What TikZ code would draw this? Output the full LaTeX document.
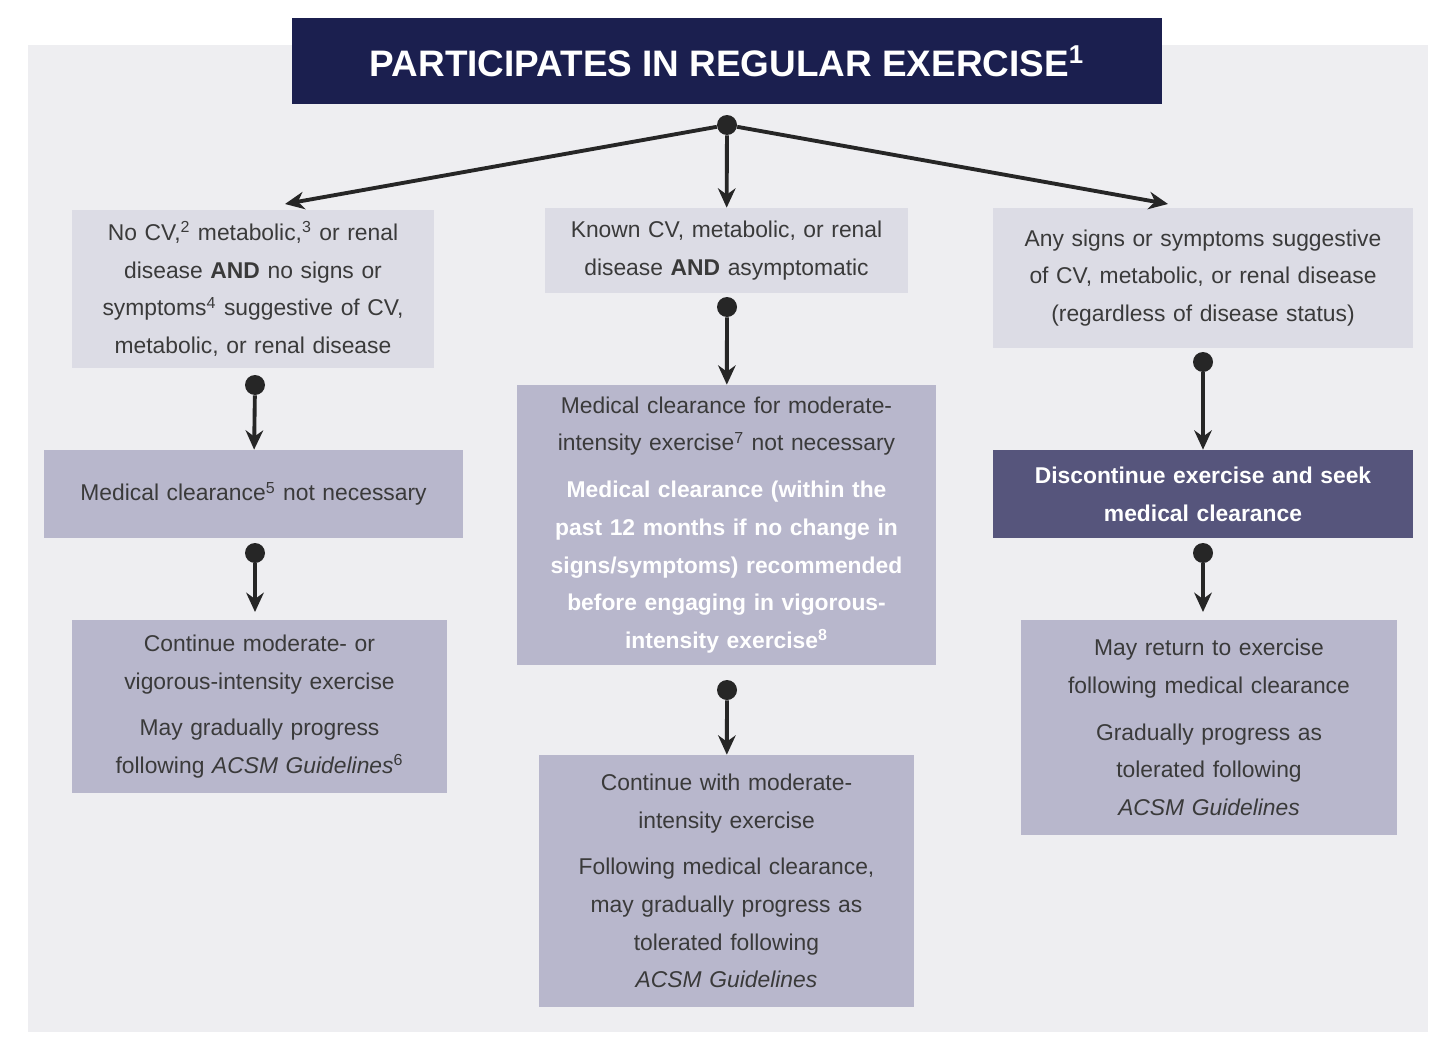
\documentclass[tikz,border=0pt]{standalone}
\usepackage{fontspec}
\setmainfont{Liberation Sans}
\usetikzlibrary{arrows.meta}
\definecolor{bgcol}{HTML}{EEEEF1}
\definecolor{lightbox}{HTML}{DCDCE5}
\definecolor{midbox}{HTML}{B8B7CC}
\definecolor{darkbox}{HTML}{56557C}
\definecolor{titlecol}{HTML}{1B1F4F}
\definecolor{txt}{HTML}{3A3A3A}
\tikzset{
  box/.style={inner sep=0pt, align=center, text=txt,
    font=\fontsize{13}{21.5}\selectfont},
  lbox/.style={box, fill=lightbox},
  mbox/.style={box, fill=midbox},
  dbox/.style={box, fill=darkbox, text=white, font=\fontsize{13}{21.5}\selectfont\bfseries},
  dot/.style={circle, fill=black!85, inner sep=0pt, minimum size=0.4cm},
  flow/.style={line width=2.2pt, black!85, -{Stealth[length=11pt,width=10pt]}}
}
\begin{document}
\begin{tikzpicture}[x=0.02cm,y=-0.02cm]
    \useasboundingbox[fill=white] (0,0) rectangle (1440,1048);
    \fill[bgcol] (28,45) rectangle (1428,1032);
    % title
    \node[fill=titlecol, text=white, minimum width=17.4cm, minimum height=1.72cm,
      font=\fontsize{21}{24}\selectfont\bfseries] (title) at (727,61)
      {PARTICIPATES IN REGULAR EXERCISE\textsuperscript{1}};
    \node[dot] (split) at (727,125) {};
    % left column
    \node[lbox, minimum width=7.24cm, minimum height=3.16cm, text width=6.9cm] (noCV) at (253,289)
      {No CV,\textsuperscript{2} metabolic,\textsuperscript{3} or renal disease \textbf{AND} no signs or symptoms\textsuperscript{4} suggestive of CV, metabolic, or renal disease};
    \node[mbox, minimum width=8.38cm, minimum height=1.76cm, text width=8cm] (noClear) at (253.5,494)
      {Medical clearance\textsuperscript{5} not necessary};
    \node[mbox, minimum width=7.5cm, minimum height=3.46cm, text width=7.1cm] (contL) at (259.5,706.5)
      {Continue moderate- or\\ vigorous-intensity exercise\\[5pt] May gradually progress\\ following \textit{ACSM Guidelines}\textsuperscript{6}};
    % middle column
    \node[lbox, minimum width=7.26cm, minimum height=1.7cm, text width=6.9cm] (known) at (726.5,250.5)
      {Known CV, metabolic, or renal\\ disease \textbf{AND} asymptomatic};
    \node[mbox, minimum width=8.38cm, minimum height=5.6cm, text width=8cm] (clearM) at (726.5,525)
      {Medical clearance for moderate-\\ intensity exercise\textsuperscript{7} not necessary\\[5pt]
       {\color{white}\bfseries Medical clearance (within the\\ past 12 months if no change in\\ signs/symptoms) recommended\\ before engaging in vigorous-\\ intensity exercise\textsuperscript{8}}};
    \node[mbox, minimum width=7.5cm, minimum height=5.04cm, text width=7.1cm] (contM) at (726.5,881)
      {Continue with moderate-\\ intensity exercise\\[5pt] Following medical clearance,\\ may gradually progress as\\ tolerated following\\ \textit{ACSM Guidelines}};
    % right column
    \node[lbox, minimum width=8.4cm, minimum height=2.8cm, text width=8cm] (signs) at (1203,278)
      {Any signs or symptoms suggestive\\ of CV, metabolic, or renal disease\\ (regardless of disease status)};
    \node[dbox, minimum width=8.4cm, minimum height=1.76cm, text width=8cm] (stop) at (1203,494)
      {Discontinue exercise and seek\\ medical clearance};
    \node[mbox, minimum width=7.52cm, minimum height=4.3cm, text width=7.1cm] (contR) at (1209,727.5)
      {May return to exercise\\ following medical clearance\\[5pt] Gradually progress as\\ tolerated following\\ \textit{ACSM Guidelines}};
    % connectors
    \coordinate (aL) at (285,204);
    \coordinate (aR) at (1168,204);
    \draw[flow] (split) -- (aL);
    \draw[flow] (split) -- (known);
    \draw[flow] (split) -- (aR);
    \node[dot] (d1) at (255,385) {};
    \draw[flow] (d1) -- (noClear);
    \node[dot] (d2) at (255,553) {};
    \draw[flow] (d2) -- (255,612);
    \node[dot] (d3) at (727,307) {};
    \draw[flow] (d3) -- (clearM);
    \node[dot] (d4) at (727,690) {};
    \draw[flow] (d4) -- (contM);
    \node[dot] (d5) at (1203,362) {};
    \draw[flow] (d5) -- (stop);
    \node[dot] (d6) at (1203,553) {};
    \draw[flow] (d6) -- (1203,612);
\end{tikzpicture}
\end{document}
